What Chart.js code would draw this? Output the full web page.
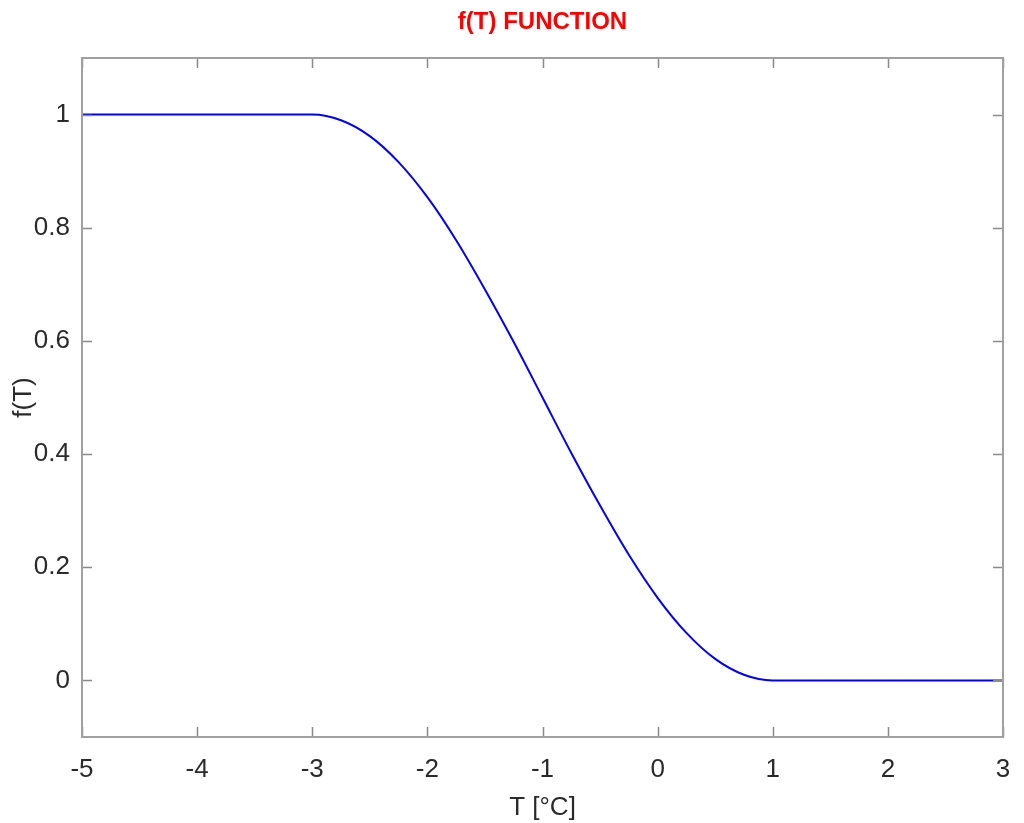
<!DOCTYPE html>
<html>
<head>
<meta charset="utf-8">
<script src="https://cdn.jsdelivr.net/npm/chart.js@4.4.1/dist/chart.umd.min.js"></script>
<style>
  html, body { margin: 0; padding: 0; background: #fff; }
  #wrap { width: 1024px; height: 823px; }
</style>
</head>
<body>
<div id="wrap"><canvas id="fChart"></canvas></div>
<script>
// values
const tValues = [-5, -3, -2.75, -2.5, -2.25, -2, -1.75, -1.5, -1.25, -1, -0.75, -0.5, -0.25, 0, 0.25, 0.5, 0.75, 1, 3];
const fValues = [1, 1, 0.990, 0.962, 0.916, 0.854, 0.778, 0.691, 0.598, 0.500, 0.402, 0.309, 0.222, 0.146, 0.084, 0.038, 0.010, 0, 0];
const xTickValues = [-5, -4, -3, -2, -1, 0, 1, 2, 3];
const yTickValues = [0, 0.2, 0.4, 0.6, 0.8, 1];

const fontFamily = '"Liberation Sans Narrow", "Arial Narrow", "Liberation Sans", Arial, sans-serif';

// box around the plot with inward ticks (matlab style)
const boxPlugin = {
    id: 'boxPlugin',
    afterDraw(chart) {
        const ctx = chart.ctx;
        const a = chart.chartArea;
        const xs = chart.scales.x;
        const ys = chart.scales.y;
        const len = 10;
        ctx.save();
        ctx.strokeStyle = '#8a8a8a';
        ctx.lineWidth = 1.5;
        ctx.beginPath();
        xs.ticks.forEach(t => {
            const px = Math.round(xs.getPixelForValue(t.value)) + 0.5;
            ctx.moveTo(px, a.bottom);
            ctx.lineTo(px, a.bottom - len);
            ctx.moveTo(px, a.top);
            ctx.lineTo(px, a.top + len);
        });
        ys.ticks.forEach(t => {
            const py = Math.round(ys.getPixelForValue(t.value)) + 0.5;
            ctx.moveTo(a.left, py);
            ctx.lineTo(a.left + len, py);
            ctx.moveTo(a.right, py);
            ctx.lineTo(a.right - len, py);
        });
        ctx.stroke();
        ctx.strokeStyle = '#a0a0a0';
        ctx.lineWidth = 2;
        ctx.strokeRect(a.left, a.top, a.right - a.left, a.bottom - a.top);
        ctx.restore();
    }
};

function initChart() {
    const ctx = document.getElementById('fChart').getContext('2d');

    new Chart(ctx, {
        type: 'line',
        data: {
            datasets: [{
                label: 'f(T)',
                data: tValues.map((t, i) => ({ x: t, y: fValues[i] })),
                borderColor: '#0000ff',
                borderWidth: 2,
                pointRadius: 0,
                fill: false,
                cubicInterpolationMode: 'monotone'
            }]
        },
        options: {
            responsive: true,
            maintainAspectRatio: false,
            animation: false,
            layout: {
                padding: { left: 0, right: 21, top: 0, bottom: 0 }
            },
            plugins: {
                legend: { display: false },
                tooltip: { enabled: false },
                title: { display: false }
            },
            scales: {
                x: {
                    type: 'linear',
                    min: -5,
                    max: 3,
                    afterBuildTicks: scale => {
                        scale.ticks = xTickValues.map(v => ({ value: v }));
                    },
                    afterFit: scale => { scale.height = 86; },
                    grid: { display: false },
                    border: { display: false },
                    ticks: {
                        color: '#2a2a2a',
                        padding: 9,
                        maxRotation: 0,
                        font: { family: fontFamily, size: 26 },
                        callback: v => String(v)
                    },
                    title: {
                        display: true,
                        text: 'T [°C]',
                        color: '#2a2a2a',
                        font: { family: fontFamily, size: 26 },
                        padding: { top: 10, bottom: 0 }
                    }
                },
                // top axis only carries the chart title, centred over the plot
                xTop: {
                    type: 'linear',
                    position: 'top',
                    min: -5,
                    max: 3,
                    afterFit: scale => { scale.height = 58; },
                    grid: { display: false },
                    border: { display: false },
                    ticks: { display: false },
                    title: {
                        display: true,
                        text: 'f(T) FUNCTION',
                        color: '#ff0000',
                        font: { family: fontFamily, size: 24, weight: 'bold' },
                        padding: { top: 8, bottom: 0 }
                    }
                },
                y: {
                    type: 'linear',
                    min: -0.1,
                    max: 1.1,
                    afterBuildTicks: scale => {
                        scale.ticks = yTickValues.map(v => ({ value: v }));
                    },
                    afterFit: scale => { scale.width = 82; },
                    grid: { display: false },
                    border: { display: false },
                    ticks: {
                        color: '#2a2a2a',
                        padding: 4,
                        font: { family: fontFamily, size: 26 },
                        callback: v => String(v)
                    },
                    title: {
                        display: true,
                        text: 'f(T)',
                        color: '#2a2a2a',
                        font: { family: fontFamily, size: 26 },
                        padding: { top: 8, bottom: 0 }
                    }
                }
            }
        },
        plugins: [boxPlugin]
    });
}

window.addEventListener('DOMContentLoaded', () => {
    initChart();
});
</script>
</body>
</html>
